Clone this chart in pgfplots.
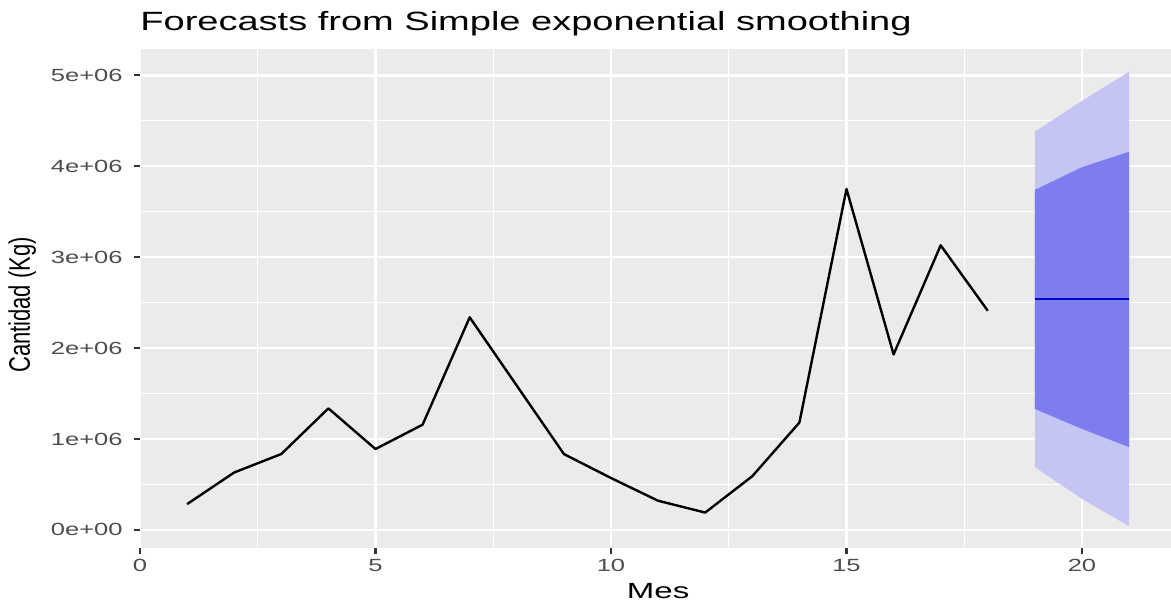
\documentclass[border=0pt]{standalone}
\usepackage{pgfplots}
\pgfplotsset{compat=1.18}
\usepackage{pgfplotstable}
\usepgfplotslibrary{fillbetween}
\usepackage{fontspec}
\setmainfont{Liberation Sans}

\definecolor{panelbg}{HTML}{EBEBEB}
\definecolor{ticktext}{HTML}{4D4D4D}
\definecolor{tickmark}{HTML}{333333}
\definecolor{band95}{HTML}{C5C5F3}
\definecolor{band80}{HTML}{7D7DEF}
\definecolor{fcline}{HTML}{0000CC}

% observed monthly quantities (kg)
\pgfplotstableread{
mes cantidad
1  283000
2  631000
3  834000
4  1336000
5  889000
6  1157000
7  2338000
8  1586000
9  834000
10 570000
11 320000
12 190000
13 590000
14 1180000
15 3750000
16 1930000
17 3130000
18 2410000
}\observed

% point forecast with 80% and 95% prediction intervals
\pgfplotstableread{
mes mean    lo80    hi80    lo95   hi95
19  2540000 1330000 3740000 690000 4380000
20  2540000 1110000 3990000 340000 4720000
21  2540000 910000  4160000 40000  5040000
}\forecast

\newcommand{\wide}[2][1.45]{\scalebox{#1}[1]{#2}}

\begin{document}
\begin{tikzpicture}
\begin{axis}[
  scale only axis,
  width=515.5pt, height=249.5pt,
  xmin=0, xmax=21.89,
  ymin=-200000, ymax=5290000,
  axis background/.style={fill=panelbg},
  axis line style={draw=none},
  clip=true,
  xtick={0,5,10,15,20},
  minor xtick={2.5,7.5,12.5,17.5},
  ytick={0,1000000,2000000,3000000,4000000,5000000},
  minor ytick={500000,1500000,2500000,3500000,4500000},
  scaled y ticks=false,
  xticklabels={\wide{0},\wide{5},\wide{10},\wide{15},\wide{20}},
  yticklabels={\wide{0e+00},\wide{1e+06},\wide{2e+06},\wide{3e+06},\wide{4e+06},\wide{5e+06}},
  tick label style={font=\fontsize{8.8}{10}\selectfont, text=ticktext, inner sep=0pt},
  xticklabel style={anchor=north, yshift=-2.5pt},
  yticklabel style={anchor=east, xshift=-5.5pt},
  tick align=outside,
  major tick length=3pt,
  minor tick length=0pt,
  tick style={tickmark, line width=1.1pt},
  xtick pos=bottom, ytick pos=left,
  grid=both,
  major grid style={white, line width=1.2pt},
  minor grid style={white, line width=0.6pt},
  title={\wide[1.44]{Forecasts from Simple exponential smoothing}},
  title style={font=\fontsize{13.2}{15}\selectfont, at={(axis description cs:0,1)}, anchor=base west, yshift=3.5pt, inner sep=0pt},
  xlabel={\wide[1.5]{Mes}},
  xlabel style={font=\fontsize{11}{13}\selectfont, at={(axis description cs:0.5025,0)}, anchor=base, yshift=-25pt, inner sep=0pt},
  ylabel={\scalebox{1}[1.35]{Cantidad (Kg)}},
  ylabel style={font=\fontsize{11}{13}\selectfont, at={(axis description cs:-0.1067,0.487)}, anchor=base, inner sep=0pt},
]
  % 95% interval
  \addplot[name path=hi95, draw=none, forget plot] table[x=mes, y=hi95] {\forecast};
  \addplot[name path=lo95, draw=none, forget plot] table[x=mes, y=lo95] {\forecast};
  \addplot[band95, draw=none] fill between[of=hi95 and lo95];
  % 80% interval
  \addplot[name path=hi80, draw=none, forget plot] table[x=mes, y=hi80] {\forecast};
  \addplot[name path=lo80, draw=none, forget plot] table[x=mes, y=lo80] {\forecast};
  \addplot[band80, draw=none] fill between[of=hi80 and lo80];
  % point forecast
  \addplot[fcline, line width=1.1pt, no markers] table[x=mes, y=mean] {\forecast};
  % observed series
  \addplot[black, line width=1.2pt, no markers, line join=round] table[x=mes, y=cantidad] {\observed};
\end{axis}
\pgfresetboundingbox
\path ([xshift=-70pt, yshift=-27.5pt]current axis.south west) rectangle ([yshift=24.5pt]current axis.north east);
\end{tikzpicture}
\end{document}
